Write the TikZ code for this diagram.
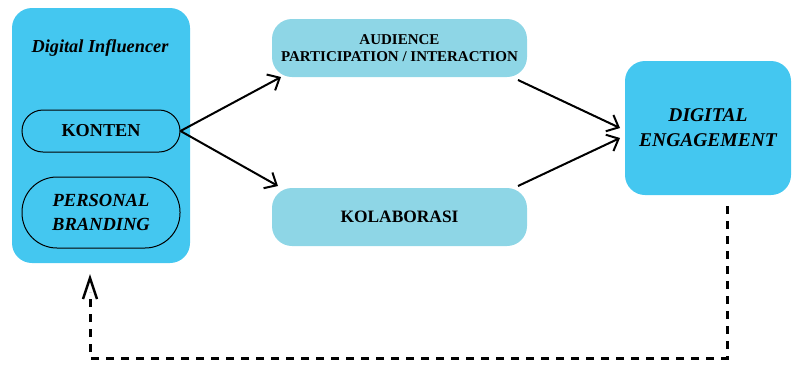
\documentclass[tikz,border=0pt]{standalone}
\usepackage{fontspec}
\setmainfont{Liberation Serif}
\usetikzlibrary{arrows.meta}
\definecolor{cyanbox}{HTML}{44C7F0}
\definecolor{lightbox}{HTML}{8ED6E6}
\tikzset{
  bigbox/.style={fill=cyanbox, draw=none, rounded corners=20pt, inner sep=0pt},
  midbox/.style={fill=lightbox, draw=none, rounded corners=20pt, minimum width=255pt, minimum height=58pt, align=center, inner sep=0pt},
  pill/.style={draw=black, line width=1pt, minimum width=158pt, align=center, inner sep=0pt},
  flow/.style={-{Straight Barb[length=10pt,width=18pt]}, line width=2pt},
  loop/.style={line width=3pt, dash pattern=on 8pt off 7pt},
}
\begin{document}
\begin{tikzpicture}[x=1pt,y=-1pt]
\useasboundingbox (0,0) rectangle (792,365);
% left box
\node[bigbox, minimum width=178pt, minimum height=255pt] (left) at (101,135.5) {};
\node[font=\bfseries\itshape\fontsize{18.3}{20}\selectfont] (di) at (100,48) {Digital Influencer};
\node[pill, minimum height=42pt, rounded corners=21pt, font=\bfseries\fontsize{18.2}{20}\selectfont] (konten) at (101,131) {KONTEN};
\node[pill, minimum height=71pt, rounded corners=35pt, font=\bfseries\itshape\fontsize{18.5}{24}\selectfont] (pb) at (101,212.5) {PERSONAL\\BRANDING};
% middle boxes
\node[midbox, font=\bfseries\fontsize{15}{17.5}\selectfont] (aud) at (399.5,48) {AUDIENCE\\PARTICIPATION / INTERACTION};
\node[midbox, font=\bfseries\fontsize{17.4}{20}\selectfont] (kol) at (399.5,217) {KOLABORASI};
% right box
\node[bigbox, minimum width=166pt, minimum height=134pt, align=center, font=\bfseries\itshape\fontsize{19.5}{25}\selectfont] (de) at (708,128) {DIGITAL\\ENGAGEMENT};
% connectors
\coordinate (a1) at (281,77);
\coordinate (a2) at (278,186);
\coordinate (s1) at (518,80);
\coordinate (s2) at (518,186);
\coordinate (e1) at (620,128);
\coordinate (e2) at (620,138);
\draw[flow] (konten.east) -- (a1);
\draw[flow] (konten.east) -- (a2);
\draw[flow] (s1) -- (e1);
\draw[flow] (s2) -- (e2);
% dashed feedback
\coordinate (d0) at (727,206);
\coordinate (d1) at (727,358);
\coordinate (d2) at (90,358);
\coordinate (d3) at (90,292);
\coordinate (tip) at (90,278);
\draw[loop] (d0) -- (d1) -- (d2) -- (d3);
\draw[line width=2.4pt] (83,299) -- (tip) -- (97,299);
\end{tikzpicture}
\end{document}
